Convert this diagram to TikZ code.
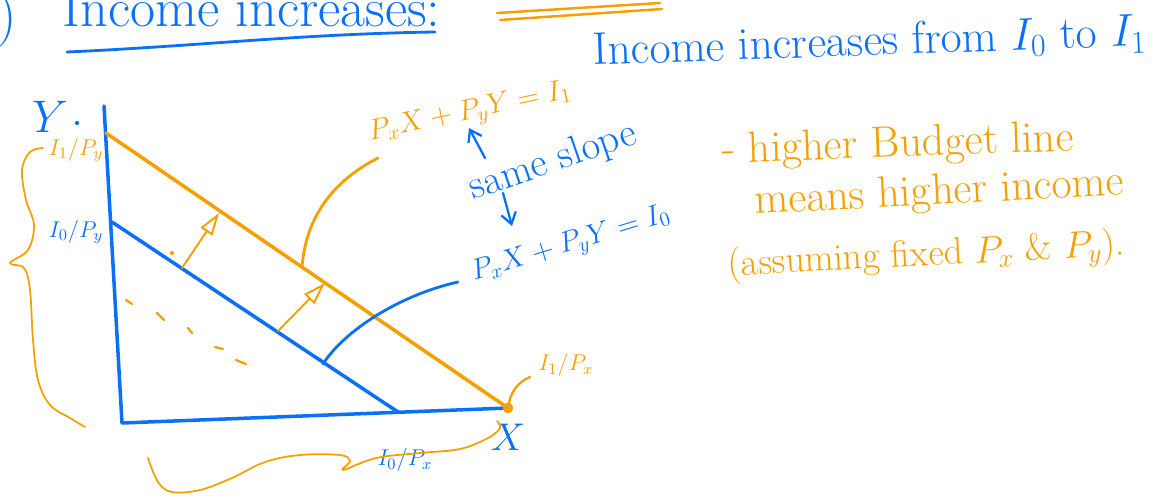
\documentclass[tikz,border=0pt]{standalone}
\usepackage{fix-cm}
\usepackage{tikz}
\usetikzlibrary{
  arrows.meta,
  calc
}
\definecolor{penblue}{RGB}{10,112,245}
\definecolor{penorange}{RGB}{245,160,0}
\tikzset{
  >=Latex,
  axisline/.style={draw=penblue,line width=2pt,line cap=round,line join=round},
  budgetzero/.style={draw=penblue,line width=2pt,line cap=round},
  budgetone/.style={draw=penorange,line width=2pt,line cap=round},
  shiftarrow/.style={penorange,line width=1.1pt,line cap=round,-{Triangle[open,length=4.5mm,width=2.8mm]}},
  pointer/.style={penblue,line width=1.3pt,line cap=round,-{Straight Barb[length=2.2mm,width=3mm]}},
  bracepen/.style={penorange,line width=1pt,line cap=round,line join=round},
  bluetext/.style={text=penblue,inner sep=0pt},
  orangetext/.style={text=penorange,inner sep=0pt},
  eqfont/.style={font=\fontsize{16.5}{20}\selectfont},
  fracfont/.style={font=\fontsize{13}{15}\selectfont},
  notefont/.style={font=\fontsize{25}{28}\selectfont}
}

\begin{document}
\begin{tikzpicture}[x=0.02cm,y=-0.02cm]
    \useasboundingbox (0,0) rectangle (1162,497);

    % heading, cut by the top edge
    \node[bluetext,anchor=base west,font=\fontsize{31}{34}\selectfont] (title) at (62,27) {Income increases:};
    \node[bluetext,anchor=base,font=\fontsize{31}{34}\selectfont] (paren) at (7,33) {)};
    \draw[penblue,line width=1.6pt,line cap=round] (67,52) .. controls (200,46) and (300,34) .. (435,32);
    \draw[penorange,line width=1.4pt,line cap=round] (497,13) -- (660,3);
    \draw[penorange,line width=1.4pt,line cap=round] (500,20) -- (662,9);
    \node[bluetext,anchor=base west,rotate=2,font=\fontsize{26}{29}\selectfont] (headline) at (593,65) {Income increases from $I_0$ to $I_1$};

    % axes and budget lines
    \coordinate (ytop) at (104,106);
    \coordinate (O) at (122,423);
    \coordinate (xend) at (508,408);
    \coordinate (yone) at (106,133);
    \coordinate (yzero) at (112,222);
    \coordinate (xzero) at (398,412);
    \draw[axisline] (ytop) -- (O) -- (xend);
    \draw[budgetone] (yone) -- (xend);
    \draw[budgetzero] (yzero) -- (xzero);
    \fill[penorange] (xend) circle (3pt);

    \node[bluetext,font=\fontsize{26}{28}\selectfont] (ylab) at (50,117) {$Y$};
    \node[bluetext,font=\fontsize{22}{24}\selectfont] (xlab) at (508,437) {$X$};
    \node[orangetext,fracfont] (yone lab) at (76,150) {$I_1/P_y$};
    \node[bluetext,fracfont] (yzero lab) at (76,232) {$I_0/P_y$};
    \node[orangetext,fracfont] (xone lab) at (566,365) {$I_1/P_x$};
    \node[bluetext,fracfont] (xzero lab) at (405,460) {$I_0/P_x$};

    % outward shift
    \coordinate (sa) at (182,268);
    \coordinate (sb) at (219,213);
    \coordinate (ta) at (278,331);
    \coordinate (tb) at (325,283);
    \draw[shiftarrow] (sa) -- (sb);
    \draw[shiftarrow] (ta) -- (tb);
    \fill[penorange] (172,253) circle (1.2pt);
    \fill[penblue] (77,123) circle (1.2pt);

    % dashes inside the old budget set
    \foreach \xa/\ya/\xb/\yb in {126/300/132/304, 157/313/164/320, 188/328/192/333, 215/347/223/349, 236/360/246/364}
      \draw[bracepen,line width=1.3pt] (\xa,\ya) -- (\xb,\yb);

    % equations
    \node[orangetext,eqfont,rotate=12] (eqone) at (470,113) {$P_xX+P_yY=I_1$};
    \node[bluetext,font=\fontsize{23}{26}\selectfont,rotate=19] (slope) at (553,162) {same slope};
    \node[bluetext,eqfont,rotate=17] (eqzero) at (571,245) {$P_xX+P_yY=I_0$};
    \coordinate (up a) at (485,158);
    \coordinate (up b) at (469,128);
    \coordinate (dn a) at (503,193);
    \coordinate (dn b) at (512,226);
    \draw[pointer] (up a) -- (up b);
    \draw[pointer] (dn a) -- (dn b);

    % label leaders
    \coordinate (ca) at (302,267);
    \coordinate (cb) at (378,158);
    \draw[penorange,line width=1.6pt,line cap=round] (ca) .. controls (306,215) and (335,180) .. (cb);
    \coordinate (da) at (323,364);
    \coordinate (db) at (458,282);
    \draw[penblue,line width=1.6pt,line cap=round] (da) .. controls (345,330) and (400,295) .. (db);
    \coordinate (ea) at (530,377);
    \draw[penorange,line width=1.3pt,line cap=round] (xend) .. controls (510,392) and (518,382) .. (ea);

    % braces
    \draw[bracepen] plot[smooth,tension=0.6] coordinates {(43,148) (30,152) (22,170) (26,200) (34,225) (28,250) (10,263) (24,268) (30,290) (33,340) (38,380) (50,405) (70,418) (85,427)};
    \draw[bracepen] plot[smooth,tension=0.6] coordinates {(148,458) (158,482) (172,492) (200,490) (232,478) (265,462) (300,455) (340,455) (350,461) (343,470) (376,458) (420,453) (460,449) (488,438) (500,428) (497,421)};

    % side note
    \node[orangetext,notefont,anchor=base west,rotate=2] (note1) at (722,163) {- higher Budget line};
    \node[orangetext,notefont,anchor=base west,rotate=3] (note2) at (755,214) {means higher income};
    \node[orangetext,font=\fontsize{21.5}{24}\selectfont,anchor=base west,rotate=3] (note3) at (728,276) {(assuming fixed $P_x$ \& $P_y$).};
\end{tikzpicture}
\end{document}
